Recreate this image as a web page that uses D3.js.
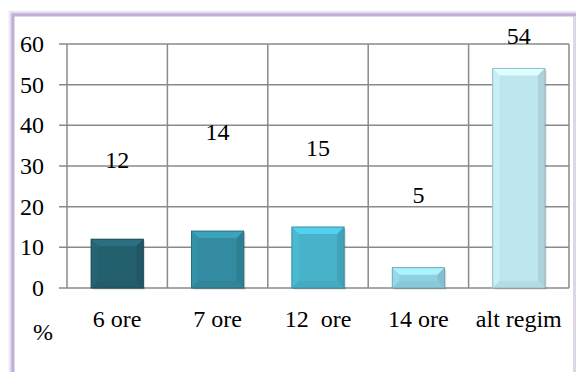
<!DOCTYPE html>
<html>
<head>
<meta charset="utf-8">
<script src="https://cdn.jsdelivr.net/npm/d3@7"></script>
<style>
  html, body { margin: 0; padding: 0; background: #ffffff; }
  svg { display: block; }
</style>
</head>
<body>
<script>
// Share of respondents by working schedule (%)
const categories = ["6 ore", "7 ore", "12  ore", "14 ore", "alt regim"];
const values = [12, 14, 15, 5, 54];
const yTicks = [0, 10, 20, 30, 40, 50, 60];
const barColors = ["#245f6e", "#328ba0", "#47b2ca", "#8fd1e1", "#bde6ef"];
// value labels sit at uneven heights above each bar (pixels above the bar top)
const labelRaise = [71, 91, 71, 65, 24];

const W = 576, H = 372;
const FONT = "'Liberation Serif'";
const FS = 24;
const svg = d3.select("body").append("svg").attr("width", W).attr("height", H);

// chart frame with a soft lavender halo built from fading strokes
[10, 8, 6, 4].forEach((w, k) => {
  svg.append("rect").attr("x", 13).attr("y", 15).attr("width", 562).attr("height", 400)
    .attr("fill", "none").attr("stroke", "#c9b6de").attr("stroke-width", w)
    .attr("stroke-opacity", 0.12 + k * 0.08);
});
svg.append("rect").attr("x", 13).attr("y", 15).attr("width", 562).attr("height", 400)
  .attr("fill", "#ffffff").attr("stroke", "#c3aed9").attr("stroke-width", 3);
svg.append("line").attr("x1", 575).attr("x2", 575).attr("y1", 16).attr("y2", H)
  .attr("stroke", "#e4e4e4").attr("stroke-width", 1.5);

const plot = { left: 67, right: 569, top: 44, bottom: 288 };

const x = d3.scaleBand().domain(categories).range([plot.left, plot.right]).padding(0);
const y = d3.scaleLinear().domain([0, 60]).range([plot.bottom, plot.top]);

const gridColor = "#8a8a8a";

// horizontal gridlines with short ticks to the left
yTicks.forEach(t => {
  svg.append("line")
    .attr("x1", plot.left - 8).attr("x2", plot.right)
    .attr("y1", y(t)).attr("y2", y(t))
    .attr("stroke", gridColor).attr("stroke-width", 1.5);
});

// vertical gridlines at category boundaries
categories.map(c => x(c)).concat([plot.right]).forEach(px => {
  svg.append("line")
    .attr("x1", px).attr("x2", px)
    .attr("y1", plot.top).attr("y2", plot.bottom)
    .attr("stroke", gridColor).attr("stroke-width", 1.5);
});

// bevelled bars
const barW = x.bandwidth() * 0.52;
const bev = 7;
function shade(c, k) {
  const col = d3.color(c);
  return k > 0 ? col.brighter(k).formatHex() : col.darker(-k).formatHex();
}
values.forEach((v, i) => {
  const cx = x(categories[i]) + x.bandwidth() / 2;
  const x0 = cx - barW / 2, x1 = cx + barW / 2;
  const y0 = y(v), y1 = y(0);
  const c = barColors[i];
  const b = Math.min(bev, (y1 - y0) / 2.2);
  // soft shadow
  [3, 2].forEach((o, k) => {
    svg.append("rect").attr("x", x0 + o - 1).attr("y", y0 + o - 1).attr("width", barW).attr("height", y1 - y0)
      .attr("fill", "#000").attr("fill-opacity", 0.08 + k * 0.06);
  });
  svg.append("rect").attr("x", x0).attr("y", y0).attr("width", barW).attr("height", y1 - y0)
    .attr("fill", c);
  svg.append("path").attr("d", `M${x0},${y0}L${x1},${y0}L${x1 - b},${y0 + b}L${x0 + b},${y0 + b}Z`)
    .attr("fill", shade(c, 0.45));
  svg.append("path").attr("d", `M${x0},${y0}L${x0 + b},${y0 + b}L${x0 + b},${y1 - b}L${x0},${y1}Z`)
    .attr("fill", shade(c, 0.12));
  svg.append("path").attr("d", `M${x1},${y0}L${x1},${y1}L${x1 - b},${y1 - b}L${x1 - b},${y0 + b}Z`)
    .attr("fill", shade(c, -0.25));
  svg.append("path").attr("d", `M${x0},${y1}L${x1},${y1}L${x1 - b},${y1 - b}L${x0 + b},${y1 - b}Z`)
    .attr("fill", shade(c, -0.12));
  svg.append("rect").attr("x", x0).attr("y", y0).attr("width", barW).attr("height", y1 - y0)
    .attr("fill", "none").attr("stroke", shade(c, -0.6)).attr("stroke-width", 1);
});

// all text is appended straight onto the svg
function label(px, py, str, anchor) {
  return svg.append("text").attr("x", px).attr("y", py).attr("font-size", FS)
    .attr("text-anchor", anchor).style("font-family", FONT).text(str);
}

// y tick labels
yTicks.forEach(t => label(44, y(t) + 8, String(t), "end"));

// category labels
categories.forEach(c => label(x(c) + x.bandwidth() / 2, 327, c, "middle").style("white-space", "pre"));

// unit label
label(43, 340, "%", "middle");

// value labels
values.forEach((v, i) => label(x(categories[i]) + x.bandwidth() / 2, y(v) - labelRaise[i], String(v), "middle"));
</script>
</body>
</html>
